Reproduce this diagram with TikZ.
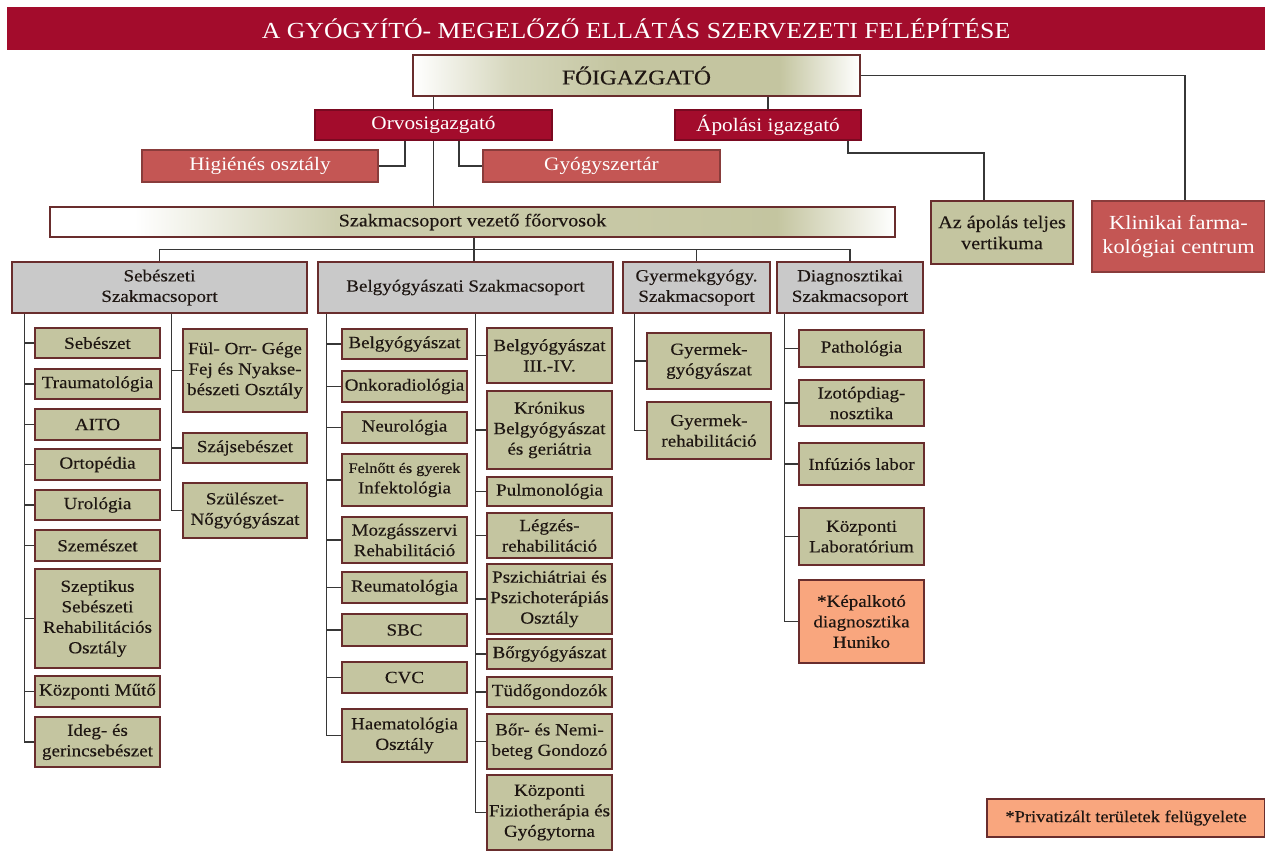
\documentclass[tikz,border=0pt]{standalone}
\usepackage{fontspec}
\setmainfont{Liberation Serif}[FakeStretch=1.12, FakeBold=0.3]
\newfontfamily\lightserif{Liberation Serif}[FakeStretch=1.12]

\definecolor{crimson}{RGB}{163,12,44}
\definecolor{rosered}{RGB}{196,86,84}
\definecolor{khaki}{RGB}{196,197,160}
\definecolor{headgrey}{RGB}{201,201,201}
\definecolor{salmon}{RGB}{249,166,126}
\definecolor{edge}{RGB}{105,45,45}
\definecolor{wirec}{RGB}{55,55,55}
\definecolor{ink}{RGB}{30,22,18}

\pgfdeclarehorizontalshading{foifade}{100bp}{color(0bp)=(white); color(25bp)=(white); color(36bp)=(khaki!70!white); color(48bp)=(khaki); color(66bp)=(khaki); color(75bp)=(white); color(100bp)=(white)}
\pgfdeclarehorizontalshading{szakfade}{100bp}{color(0bp)=(white); color(25bp)=(white); color(30bp)=(white); color(42bp)=(khaki!85!white); color(68bp)=(khaki); color(75bp)=(white); color(100bp)=(white)}

\newcommand\bodyfont{\fontsize{17}{20.5}\selectfont}
\newcommand\chieffont{\lightserif\fontsize{19}{22}\selectfont}
\newcommand\topfont{\fontsize{21}{24}\selectfont}
\newcommand\titlefont{\lightserif\fontsize{23}{26}\selectfont}
% \place{name}{style}{x1}{y1}{x2}{y2}{text}: box by its corners, y measured downwards
\newcommand\place[7]{\node[#2, minimum width={(#5)-(#3)}, minimum height={(#6)-(#4)}] (#1) at ({((#3)+(#5))/2},{-((#4)+(#6))/2}) {#7};}

\begin{document}
\begin{tikzpicture}[x=1pt,y=1pt,
  box/.style={draw=edge, line width=1.5pt, inner sep=0pt, align=center, text=ink, font=\bodyfont},
  unit/.style={box, fill=khaki},
  head/.style={box, fill=headgrey},
  priv/.style={box, fill=salmon},
  chief/.style={box, draw=crimson!75!black, fill=crimson, text=white, font=\chieffont},
  dept/.style={box, draw=rosered!70!black, fill=rosered, text=white, font=\chieffont},
  wire/.style={draw=wirec, line width=1.5pt}]
\useasboundingbox (0,0) rectangle (1265,-852);

% title bar
\place{title}{draw=none, fill=crimson, text=white, font=\titlefont, inner sep=0pt}{7}{7}{1265}{50}{A GYÓGYÍTÓ- MEGELŐZŐ ELLÁTÁS SZERVEZETI FELÉPÍTÉSE}

% management
\place{foi}{box, shading=foifade, font=\topfont}{413}{55}{860}{96}{FŐIGAZGATÓ}
\place{orvos}{chief}{315}{110}{552}{140}{Orvosigazgató}
\place{apol}{chief}{675}{110}{861}{140}{Ápolási igazgató}
\place{hig}{dept}{142}{150}{378}{182}{Higiénés osztály}
\place{gyogy}{dept}{483}{150}{720}{182}{Gyógyszertár}
\place{szak}{box, shading=szakfade, font=\fontsize{18}{21}\selectfont}{50}{207}{895}{237}{Szakmacsoport vezető főorvosok}
\place{az}{unit, font=\fontsize{18}{21}\selectfont}{931}{201}{1073}{264}{Az ápolás teljes\\vertikuma}
\place{klin}{dept, font=\lightserif\fontsize{20}{24}\selectfont}{1092}{201}{1265}{272}{Klinikai farma-\\kológiai centrum}

% specialty groups
\place{seb}{head}{12}{262}{307}{313}{Sebészeti\\Szakmacsoport}
\place{belg}{head}{318}{262}{613}{313}{Belgyógyászati Szakmacsoport}
\place{gyer}{head}{623}{262}{770}{313}{Gyermekgyógy.\\Szakmacsoport}
\place{diag}{head}{777}{262}{923}{313}{Diagnosztikai\\Szakmacsoport}

% surgery, first column
\place{s1}{unit}{35}{328}{160}{358}{Sebészet}
\place{s2}{unit}{35}{369}{160}{399}{Traumatológia}
\place{s3}{unit}{35}{409}{160}{440}{AITO}
\place{s4}{unit}{35}{449}{160}{480}{Ortopédia}
\place{s5}{unit}{35}{490}{160}{520}{Urológia}
\place{s6}{unit}{35}{530}{160}{561}{Szemészet}
\place{s7}{unit}{35}{569}{160}{668}{Szeptikus\\Sebészeti\\Rehabilitációs\\Osztály}
\place{s8}{unit}{35}{676}{160}{707}{Központi Műtő}
\place{s9}{unit}{35}{717}{160}{767}{Ideg- és\\gerincsebészet}
% surgery, second column
\place{f1}{unit}{183}{329}{307}{412}{Fül- Orr- Gége\\Fej és Nyakse-\\bészeti Osztály}
\place{f2}{unit}{183}{433}{307}{463}{Szájsebészet}
\place{f3}{unit}{183}{483}{307}{538}{Szülészet-\\Nőgyógyászat}

% internal medicine, first column
\place{b1}{unit}{342}{329}{467}{359}{Belgyógyászat}
\place{b2}{unit}{342}{371}{467}{402}{Onkoradiológia}
\place{b3}{unit}{342}{412}{467}{443}{Neurológia}
\place{b4}{unit}{342}{454}{467}{506}{{\fontsize{14.5}{18}\selectfont Felnőtt és gyerek}\\Infektológia}
\place{b5}{unit}{342}{517}{467}{563}{Mozgásszervi\\Rehabilitáció}
\place{b6}{unit}{342}{572}{467}{603}{Reumatológia}
\place{b7}{unit}{342}{614}{467}{646}{SBC}
\place{b8}{unit}{342}{662}{467}{693}{CVC}
\place{b9}{unit}{342}{709}{467}{762}{Haematológia\\Osztály}
% internal medicine, second column
\place{k1}{unit}{487}{328}{612}{383}{Belgyógyászat\\III.-IV.}
\place{k2}{unit}{487}{391}{612}{469}{Krónikus\\Belgyógyászat\\és geriátria}
\place{k3}{unit}{487}{477}{612}{506}{Pulmonológia}
\place{k4}{unit}{487}{513}{612}{558}{Légzés-\\rehabilitáció}
\place{k5}{unit}{487}{564}{612}{634}{Pszichiátriai és\\Pszichoterápiás\\Osztály}
\place{k6}{unit}{487}{639}{612}{669}{Bőrgyógyászat}
\place{k7}{unit}{487}{677}{612}{707}{Tüdőgondozók}
\place{k8}{unit}{487}{714}{612}{769}{Bőr- és Nemi-\\beteg Gondozó}
\place{k9}{unit}{487}{775}{612}{850}{Központi\\Fiziotherápia és\\Gyógytorna}

% paediatrics
\place{g1}{unit}{647}{333}{771}{389}{Gyermek-\\gyógyászat}
\place{g2}{unit}{647}{402}{771}{459}{Gyermek-\\rehabilitáció}

% diagnostics
\place{d1}{unit}{799}{330}{924}{367}{Pathológia}
\place{d2}{unit}{799}{380}{924}{426}{Izotópdiag-\\nosztika}
\place{d3}{unit}{799}{443}{924}{485}{Infúziós labor}
\place{d4}{unit}{799}{508}{924}{565}{Központi\\Laboratórium}
\place{d5}{priv}{799}{580}{924}{663}{*Képalkotó\\diagnosztika\\Huniko}

% legend
\place{legend}{priv, font=\fontsize{16.5}{19}\selectfont}{987}{799}{1265}{837}{*Privatizált területek felügyelete}

% management connectors
\draw[wire] (orvos.north) -- (orvos.north |- foi.south);
\draw[wire] (apol.north) -- (apol.north |- foi.south);
\draw[wire] (orvos.south) -- (orvos.south |- szak.north);
\draw[wire] ([xshift=-28.5pt]orvos.south) |- (hig.east);
\draw[wire] ([xshift=25.5pt]orvos.south) |- (gyogy.west);
\draw[wire] ([xshift=-14pt]apol.south east) -- ++(0,-12) -| ([xshift=-18pt]az.north);
\draw[wire] (foi.east) -| ([xshift=6.5pt]klin.north);

% bus to the specialty groups
\draw[wire] (seb.north) -- ++(0,12) -| (diag.north);
\draw[wire] (gyer.north) -- ++(0,12);
\draw[wire] ([xshift=8.5pt]belg.north) -- ([xshift=8.5pt]belg.north |- szak.south);

% spines
\coordinate (sp1) at ([xshift=13pt]seb.south west);
\coordinate (sp2) at ([xshift=160pt]seb.south west);
\coordinate (sp3) at ([xshift=9pt]belg.south west);
\coordinate (sp4) at ([xshift=158pt]belg.south west);
\coordinate (sp5) at ([xshift=12pt]gyer.south west);
\coordinate (sp6) at ([xshift=8pt]diag.south west);

\draw[wire] (sp1) |- (s9.west);
\foreach \n in {1,...,8} \draw[wire] (s\n.west) -- (s\n.west -| sp1);
\draw[wire] (sp2) |- (f3.west);
\foreach \n in {1,2} \draw[wire] (f\n.west) -- (f\n.west -| sp2);
\draw[wire] (sp3) |- (b9.west);
\foreach \n in {1,...,8} \draw[wire] (b\n.west) -- (b\n.west -| sp3);
\draw[wire] (sp4) |- (k9.west);
\foreach \n in {1,...,8} \draw[wire] (k\n.west) -- (k\n.west -| sp4);
\draw[wire] (sp5) |- (g2.west);
\draw[wire] (g1.west) -- (g1.west -| sp5);
\draw[wire] (sp6) |- (d5.west);
\foreach \n in {1,...,4} \draw[wire] (d\n.west) -- (d\n.west -| sp6);
\end{tikzpicture}
\end{document}
